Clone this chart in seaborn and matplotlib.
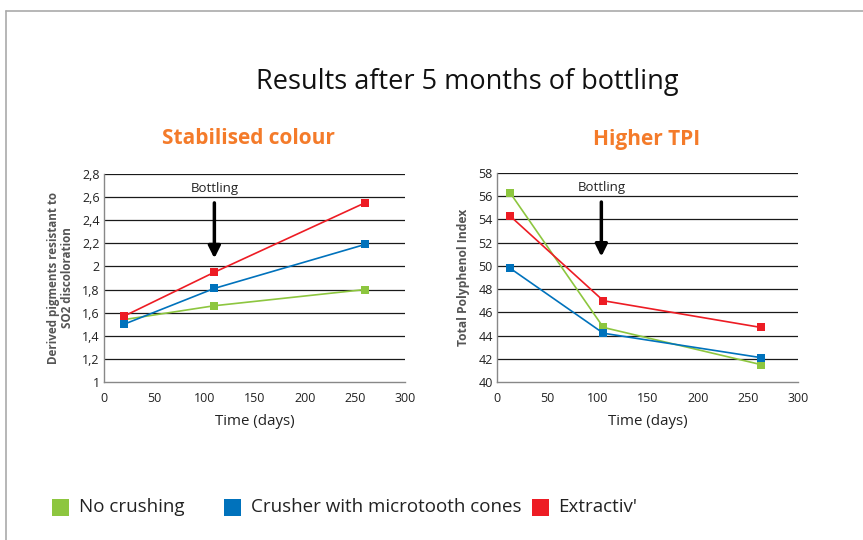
import matplotlib
matplotlib.use("Agg")
import matplotlib.pyplot as plt
from matplotlib.lines import Line2D
from matplotlib.patches import Rectangle
import seaborn as sns
import pandas as pd

# ---- data -------------------------------------------------------------
series = ["No crushing", "Crusher with microtooth cones", "Extractiv'"]
colors = ["#8DC63F", "#0072BC", "#ED1C24"]

# Stabilised colour: derived pigments resistant to SO2 discoloration
days_colour = [20, 110, 260]
colour_no_crushing = [1.54, 1.66, 1.80]
colour_microtooth = [1.50, 1.81, 2.19]
colour_extractiv = [1.57, 1.95, 2.55]

# Higher TPI: total polyphenol index
days_tpi = [13, 106, 263]
tpi_no_crushing = [56.3, 44.7, 41.5]
tpi_microtooth = [49.8, 44.2, 42.1]
tpi_extractiv = [54.3, 47.0, 44.7]

colour_yticks = [1, 1.2, 1.4, 1.6, 1.8, 2, 2.2, 2.4, 2.6, 2.8]
colour_ytick_labels = ["1", "1,2", "1,4", "1,6", "1,8", "2", "2,2", "2,4", "2,6", "2,8"]
tpi_yticks = [40, 42, 44, 46, 48, 50, 52, 54, 56, 58]
xticks = [0, 50, 100, 150, 200, 250, 300]

bottling_colour = (110, 2.55, 2.07)
bottling_tpi = (104, 55.5, 50.8)


def long_frame(days, values):
    rows = []
    for name, vals in zip(series, values):
        for d, v in zip(days, vals):
            rows.append({"days": d, "value": v, "series": name})
    return pd.DataFrame(rows)


df_colour = long_frame(days_colour, [colour_no_crushing, colour_microtooth, colour_extractiv])
df_tpi = long_frame(days_tpi, [tpi_no_crushing, tpi_microtooth, tpi_extractiv])

# ---- styling ----------------------------------------------------------
sns.set_theme(style="white")
plt.rcParams["font.family"] = ["Open Sans", "DejaVu Sans"]

fig = plt.figure(figsize=(8.63, 5.40), dpi=100)
W, H = 863, 540

ax1 = fig.add_axes([104 / W, 1 - 382 / H, 301 / W, 208 / H])
ax2 = fig.add_axes([497 / W, 1 - 382 / H, 301 / W, 209 / H])

palette = dict(zip(series, colors))


def draw(ax, df, ylim, yticks, yticklabels, ylabel, ylabel_size, arrow):
    ax.set_axisbelow(True)
    for y in yticks[1:]:
        ax.axhline(y, color="#1a1a1a", lw=0.9, zorder=0)
    sns.lineplot(data=df, x="days", y="value", hue="series", hue_order=series,
                 palette=palette, marker="s", markersize=5.2, markeredgewidth=0,
                 linewidth=1.2, legend=False, ax=ax)
    ax.set_xlim(0, 300)
    ax.set_ylim(*ylim)
    ax.set_xticks(xticks)
    ax.set_yticks(yticks)
    ax.set_yticklabels(yticklabels)
    ax.tick_params(axis="both", labelsize=9, colors="#222222", pad=3)
    ax.tick_params(axis="x", length=4, width=0.8, color="#888888", direction="out")
    ax.tick_params(axis="y", length=0)
    for s in ["top", "right"]:
        ax.spines[s].set_visible(False)
    for s in ["left", "bottom"]:
        ax.spines[s].set_color("#888888")
        ax.spines[s].set_linewidth(1.0)
    ax.set_xlabel("Time (days)", fontsize=10.8, color="#222222", labelpad=7)
    ax.set_ylabel(ylabel, fontsize=ylabel_size, fontweight="bold", color="#555555",
                  labelpad=6, linespacing=1.1)
    x, y0, y1 = arrow
    ax.annotate("", xy=(x, y1), xytext=(x, y0),
                arrowprops=dict(arrowstyle="-|>,head_width=0.3,head_length=0.6",
                                color="black", lw=2.5, shrinkA=0, shrinkB=0))
    span = ylim[1] - ylim[0]
    ax.text(x, y0 + span * 0.07, "Bottling", ha="center", va="center",
            fontsize=9.5, color="#222222")


draw(ax1, df_colour, (1, 2.8), colour_yticks, colour_ytick_labels,
     "Derived pigments resistant to\nSO2 discoloration", 8.4, bottling_colour)
draw(ax2, df_tpi, (40, 58), tpi_yticks, [str(t) for t in tpi_yticks],
     "Total Polyphenol Index", 8.7, bottling_tpi)

# titles
fig.text(467 / W, 1 - 82 / H, "Results after 5 months of bottling",
         ha="center", va="center", fontsize=19.5, color="#111111")
orange = "#F47B2A"
fig.text(248 / W, 1 - 139 / H, "Stabilised colour", ha="center", va="center",
         fontsize=15, fontweight="bold", color=orange)
fig.text(647 / W, 1 - 139 / H, "Higher TPI", ha="center", va="center",
         fontsize=15, fontweight="bold", color=orange)

# legend row
legend_pos = [(52, 79), (224, 251), (532, 558)]
for (sx, tx), name, c in zip(legend_pos, series, colors):
    fig.add_artist(Rectangle((sx / W, 1 - 516 / H), 17 / W, 17 / H,
                             transform=fig.transFigure, color=c, lw=0))
    fig.text(tx / W, 1 - 507 / H, name, ha="left", va="center",
             fontsize=13.5, color="#222222")

# frame lines
fig.add_artist(Line2D([5.5 / W, 1], [1 - 10.5 / H, 1 - 10.5 / H],
                      transform=fig.transFigure, color="#AAAAAA", lw=1.2))
fig.add_artist(Line2D([5.5 / W, 5.5 / W], [0, 1 - 10.5 / H],
                      transform=fig.transFigure, color="#AAAAAA", lw=1.2))

fig.savefig("out.png", dpi=100, facecolor="white")
